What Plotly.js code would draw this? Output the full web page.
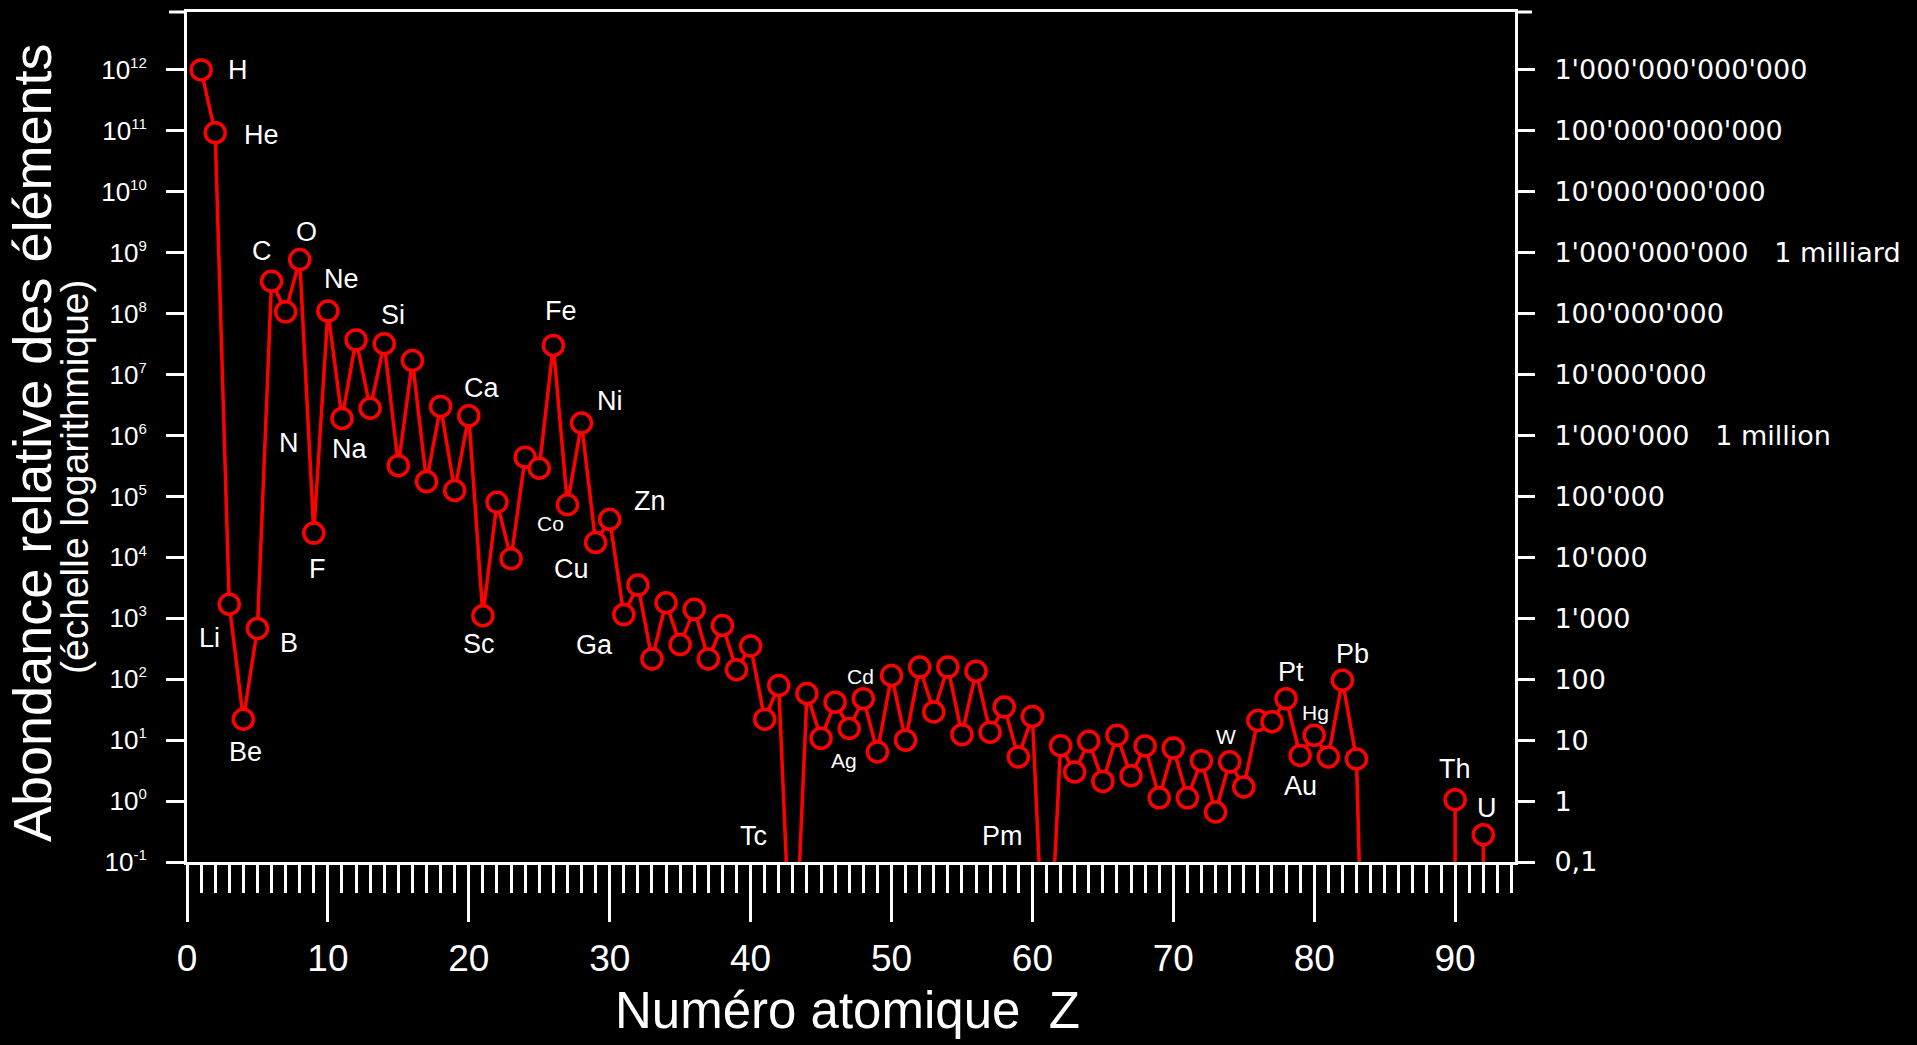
<!DOCTYPE html>
<html>
<head>
<meta charset="utf-8">
<script src="https://cdn.plot.ly/plotly-3.0.1.min.js"></script>
<style>
  html, body { margin: 0; padding: 0; background: #000; }
  #chart { width: 1917px; height: 1045px; }
</style>
</head>
<body>
<div id="chart"></div>
<script>
// ---------- DATA ----------
const atomicNumbers = [1,2,3,4,5,6,7,8,9,10,11,12,13,14,15,16,17,18,19,20,
  21,22,23,24,25,26,27,28,29,30,31,32,33,34,35,36,37,38,39,40,
  41,42,43,44,45,46,47,48,49,50,51,52,53,54,55,56,57,58,59,60,
  61,62,63,64,65,66,67,68,69,70,71,72,73,74,75,76,77,78,79,80,
  81,82,83,84,85,86,87,88,89,90,91,92];

const symbols = ['H','He','Li','Be','B','C','N','O','F','Ne',
  'Na','Mg','Al','Si','P','S','Cl','Ar','K','Ca',
  'Sc','Ti','V','Cr','Mn','Fe','Co','Ni','Cu','Zn',
  'Ga','Ge','As','Se','Br','Kr','Rb','Sr','Y','Zr',
  'Nb','Mo','Tc','Ru','Rh','Pd','Ag','Cd','In','Sn',
  'Sb','Te','I','Xe','Cs','Ba','La','Ce','Pr','Nd',
  'Pm','Sm','Eu','Gd','Tb','Dy','Ho','Er','Tm','Yb',
  'Lu','Hf','Ta','W','Re','Os','Ir','Pt','Au','Hg',
  'Tl','Pb','Bi','Po','At','Rn','Fr','Ra','Ac','Th',
  'Pa','U'];

// relative abundance (H = 10^12); Tc, Pm, Po fall below the axis; null = not shown
const abundance = [1e12, 9.3e10, 1.7e3, 22, 680, 3.4e8, 1.07e8, 7.7e8, 2.5e4, 1.1e8,
  1.9e6, 3.7e7, 2.8e6, 3.2e7, 3.2e5, 1.7e7, 1.75e5, 3.0e6, 1.25e5, 2.1e6,
  1.1e3, 8.0e4, 9.5e3, 4.4e5, 2.9e5, 3.0e7, 7.3e4, 1.6e6, 1.75e4, 4.2e4,
  1.15e3, 3.5e3, 215, 1.8e3, 370, 1.4e3, 215, 760, 143, 350,
  22, 79, 3e-4, 58, 10.7, 42, 15.5, 48, 6.4, 115,
  10, 158, 29, 158, 12.3, 135, 13.5, 35, 5.3, 24.5,
  2e-4, 8.1, 3.0, 9.6, 2.1, 12, 2.6, 8.0, 1.13, 7.4,
  1.13, 4.6, 0.66, 4.4, 1.7, 21, 20, 48, 5.6, 12,
  5.3, 96, 4.9, 1e-8, null, null, null, null, null, 1.05,
  null, 0.28];

const tickExponents = [-1,0,1,2,3,4,5,6,7,8,9,10,11,12];
const rightTickLabels = ['0,1','1','10','100',"1'000","10'000","100'000",
  "1'000'000\u00a0\u00a0\u00a01 million","10'000'000","100'000'000",
  "1'000'000'000\u00a0\u00a0\u00a01 milliard","10'000'000'000","100'000'000'000","1'000'000'000'000"];
const xTitle = 'Numéro atomique\u00a0\u00a0Z';
const yTitle = 'Abondance relative des éléments';
const ySubTitle = '(échelle logarithmique)';

// ---------- LABEL PLACEMENT (pixel offsets from the point; 's' = small) ----------
const labelOffsets = {
  H:[37,0], He:[46,2], C:[-10,-30], O:[7,-28], Ne:[14,-32], Si:[9,-29],
  N:[3,131], Na:[8,31], F:[4,36], Li:[-20,34], B:[32,15], Be:[2,33],
  Ca:[13,-28], Fe:[8,-34], Ni:[28,-22], Co:[-17,19,'s'], Cu:[-24,26],
  Zn:[40,-18], Sc:[-4,28], Ga:[-29,30], Tc:[-39,-26], Pm:[-44,-26],
  Cd:[-3,-22,'s'], Ag:[-5,32,'s'], W:[-4,-25,'s'], Pt:[5,-27],
  Hg:[1,-23,'s'], Au:[0,31], Pb:[10,-26], Th:[0,-31], U:[4,-27]
};

const FONT = 'Liberation Sans, Arial, Helvetica, sans-serif';
const RED = '#ff0000';
const WHITE = '#ffffff';
const yRange = [-1, 12.95];

// isolated points (no neighbours) get a stem down to the axis
const stemMinus = abundance.map((v, i) => {
  if (v === null) return 0;
  const prev = i > 0 ? abundance[i - 1] : null;
  const next = i < abundance.length - 1 ? abundance[i + 1] : null;
  return (prev === null && next === null) ? v * 0.9999 : 0;
});

const mainTrace = {
  x: atomicNumbers,
  y: abundance,
  type: 'scatter',
  mode: 'lines+markers',
  connectgaps: false,
  line: { color: RED, width: 3.5 },
  marker: { symbol: 'circle', size: 20, color: '#000000', line: { color: RED, width: 3.5 } },
  error_y: { type: 'data', symmetric: false, array: abundance.map(() => 0), arrayminus: stemMinus,
             color: RED, thickness: 3.5, width: 0, visible: true },
  cliponaxis: true,
  hoverinfo: 'skip',
  showlegend: false
};

// same series on the right-hand axis (draws nothing, only activates that axis)
const rightAxisTrace = {
  x: atomicNumbers, y: abundance, type: 'scatter', mode: 'none',
  yaxis: 'y2', hoverinfo: 'skip', showlegend: false
};

const annotations = [];
symbols.forEach((s, i) => {
  const o = labelOffsets[s];
  if (!o) return;
  const v = abundance[i];
  let yv = (v === null) ? yRange[0] : Math.log10(v);
  if (yv < yRange[0]) yv = yRange[0];
  annotations.push({
    x: atomicNumbers[i], y: yv, xref: 'x', yref: 'y',
    text: s, showarrow: false, xanchor: 'center', yanchor: 'middle',
    xshift: o[0], yshift: -o[1],
    font: { family: FONT, size: o[2] === 's' ? 21 : 27, color: WHITE }
  });
});

// axis titles
annotations.push({
  xref: 'paper', yref: 'paper', x: 0, y: 0.5, xshift: -155, yshift: -6,
  text: yTitle, textangle: -90, showarrow: false, xanchor: 'center', yanchor: 'middle',
  font: { family: FONT, size: 54, color: WHITE }
});
annotations.push({
  xref: 'paper', yref: 'paper', x: 0, y: 0.5, xshift: -113, yshift: -40,
  text: ySubTitle, textangle: -90, showarrow: false, xanchor: 'center', yanchor: 'middle',
  font: { family: FONT, size: 39, color: WHITE }
});
annotations.push({
  xref: 'paper', yref: 'paper', x: 0.5, y: 0, xshift: -4, yshift: -148,
  text: xTitle, showarrow: false, xanchor: 'center', yanchor: 'middle',
  font: { family: FONT, size: 51, color: WHITE }
});

const tickVals = tickExponents.map(e => Math.pow(10, e));
const leftTickText = tickExponents.map(e => '10<sup><span style="font-size:15px">' + e + '</span></sup>');

const layout = {
  width: 1917, height: 1045,
  paper_bgcolor: '#000000', plot_bgcolor: '#000000',
  margin: { l: 187, r: 402, t: 12, b: 183, pad: 0 },
  showlegend: false,
  hovermode: false,
  font: { family: FONT, color: WHITE },
  xaxis: {
    range: [0, 94.25], showgrid: false, zeroline: false,
    showline: true, linecolor: WHITE, linewidth: 3, mirror: true,
    ticks: 'outside', tickmode: 'linear', tick0: 0, dtick: 10,
    ticklen: 57, tickwidth: 3, tickcolor: WHITE,
    ticklabelstandoff: 5,
    tickfont: { family: FONT, size: 37, color: WHITE },
    minor: { ticks: 'outside', tick0: 0, dtick: 1, ticklen: 28, tickwidth: 3, tickcolor: WHITE, showgrid: false }
  },
  yaxis: {
    type: 'log', range: yRange, showgrid: false, zeroline: false,
    showline: true, linecolor: WHITE, linewidth: 3,
    ticks: 'outside', tickmode: 'array', tickvals: tickVals, ticktext: leftTickText,
    ticklen: 18, tickwidth: 3, tickcolor: WHITE,
    ticklabelstandoff: 14,
    tickfont: { family: FONT, size: 26, color: WHITE }
  },
  yaxis2: {
    type: 'log', range: yRange, overlaying: 'y', side: 'right', anchor: 'x',
    showgrid: false, zeroline: false,
    showline: true, linecolor: WHITE, linewidth: 3,
    ticks: 'outside', tickmode: 'array', tickvals: tickVals, ticktext: rightTickLabels,
    ticklen: 17, tickwidth: 3, tickcolor: WHITE,
    ticklabelstandoff: 14,
    tickfont: { family: 'DejaVu Sans, Verdana, sans-serif', size: 27, color: WHITE }
  },
  shapes: [
    { type: 'line', xref: 'paper', yref: 'paper', xsizemode: 'pixel', xanchor: 0,
      x0: -18, x1: 0, y0: 1, y1: 1, line: { color: WHITE, width: 3 } },
    { type: 'line', xref: 'paper', yref: 'paper', xsizemode: 'pixel', xanchor: 1,
      x0: 0, x1: 17, y0: 1, y1: 1, line: { color: WHITE, width: 3 } }
  ],
  annotations: annotations
};

Plotly.newPlot('chart', [mainTrace, rightAxisTrace], layout, { staticPlot: true, displayModeBar: false });
</script>
</body>
</html>
